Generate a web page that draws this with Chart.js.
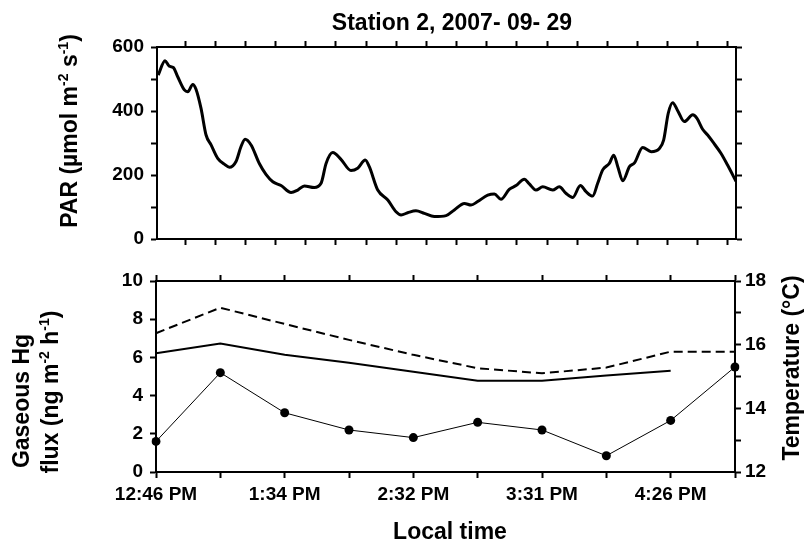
<!DOCTYPE html>
<html>
<head>
<meta charset="utf-8">
<script src="https://cdn.jsdelivr.net/npm/chart.js@4"></script>
<style>
  body { margin: 0; background: #fff; }
  #wrap { position: relative; width: 807px; height: 545px; }
  canvas { position: absolute; left: 0; }
  #parChart { top: 0; }
  #fluxChart { top: 245px; }
</style>
</head>
<body>
<div id="wrap">
  <canvas id="parChart" width="807" height="260"></canvas>
  <canvas id="fluxChart" width="807" height="300"></canvas>
</div>
<script>
// PAR, minutes after 12:46 PM
const parMinutes = [0.6, 4, 6.1, 8.1, 10.3, 13.6, 15.3, 17.8, 19.4, 21.9, 24.4, 26.9, 30.2, 33.5, 36,
  39.3, 41.8, 43.8, 46.8, 50.9, 54.2, 57.6, 61.7, 66.7, 70, 73.3, 78.2, 81.6, 84.1, 87.4,
  91.5, 96.5, 99.8, 103.6, 105.6, 109.8, 114.8, 118.9, 121.4, 124.7, 128.8, 133, 137.9, 143.8, 147.9,
  152.9, 156.2, 159.5, 164.5, 167.8, 171.1, 175.2, 178.6, 182.7, 185.2, 188.5, 191.9, 196.8, 200.1, 203.4,
  206.8, 210.6, 213.4, 216.7, 219.2, 221.7, 225, 227.2, 229.2, 231.7, 235, 237.5, 241.6, 245.8, 249.9,
  252, 254.3, 256.5, 259, 262.3, 266.5, 268.6, 271.4, 273.9, 276.4, 280.5, 283.8, 288];
const parValues = [512, 557, 540, 536, 507, 466, 460, 483, 468, 408, 325, 294, 252, 234, 224,
  242, 289, 312, 294, 236, 202, 179, 167, 145, 153, 166, 161, 174, 236, 270,
  249, 214, 221, 247, 226, 153, 122, 85, 75, 82, 88, 80, 70, 73, 91,
  111, 106, 117, 137, 141, 124, 155, 167, 187, 172, 153, 163, 153, 163, 143,
  130, 167, 148, 134, 174, 216, 236, 262, 226, 182, 226, 238, 286, 273, 283,
  309, 393, 426, 401, 367, 388, 377, 343, 325, 304, 268, 231, 180];

// flux samples
const timeLabels = ['12:46 PM', '', '1:34 PM', '', '2:32 PM', '', '3:31 PM', '', '4:26 PM', ''];
const fluxValues = [1.6, 5.2, 3.1, 2.2, 1.8, 2.6, 2.2, 0.85, 2.7, 5.5];
const tempDashed = [16.36, 17.16, 16.65, 16.15, 15.68, 15.26, 15.1, 15.28, 15.78, 15.78];
const tempSolid = [15.73, 16.04, 15.68, 15.43, 15.15, 14.87, 14.87, 15.03, 15.18, null];

const FONT = "'Liberation Sans', Arial, sans-serif";
Chart.defaults.font.family = FONT;
Chart.defaults.font.weight = 'bold';
Chart.defaults.font.size = 19;
Chart.defaults.color = '#000';
Chart.defaults.animation = false;

function frameAxis(extra) {
  return Object.assign({
    grid: { display: true, drawOnChartArea: false, drawTicks: true, tickLength: 6, tickWidth: 2, color: '#000' },
    border: { display: true, width: 2, color: '#000' },
  }, extra);
}

function drawRich(ctx, parts, x, y, rot) {
  ctx.save();
  ctx.translate(x, y);
  ctx.rotate(rot);
  ctx.fillStyle = '#000';
  ctx.textAlign = 'left';
  ctx.textBaseline = 'alphabetic';
  const setFont = p => { ctx.font = 'bold ' + (p.sup ? 14 : 23) + 'px ' + FONT; };
  let w = 0;
  parts.forEach(p => { setFont(p); w += ctx.measureText(p.t).width; });
  let cx = -w / 2;
  parts.forEach(p => {
    setFont(p);
    ctx.fillText(p.t, cx, p.sup ? -9 : 0);
    cx += ctx.measureText(p.t).width;
  });
  ctx.restore();
}

new Chart(document.getElementById('parChart'), {
  type: 'line',
  data: {
    datasets: [{
      data: parMinutes.map((m, i) => ({ x: m, y: parValues[i] })),
      borderColor: '#000',
      borderWidth: 3,
      pointRadius: 0,
      cubicInterpolationMode: 'monotone',
      fill: false
    }]
  },
  options: {
    responsive: false,
    layout: { padding: { top: 47, right: 71, left: 0, bottom: 0 } },
    plugins: { legend: { display: false }, tooltip: { enabled: false } },
    scales: {
      x: frameAxis({
        type: 'linear', position: 'bottom', min: 0, max: 288,
        ticks: { display: false },
        afterBuildTicks: s => { s.ticks = []; for (let m = 14; m <= 288; m += 15) s.ticks.push({ value: m }); },
        afterFit: s => { s.height = 21; }
      }),
      xTop: frameAxis({
        type: 'linear', position: 'top', min: 0, max: 288,
        ticks: { display: false },
        afterBuildTicks: s => { s.ticks = []; for (let m = 14; m <= 288; m += 15) s.ticks.push({ value: m }); },
        afterFit: s => { s.height = 0; }
      }),
      y: frameAxis({
        position: 'left', min: 0, max: 600,
        ticks: { stepSize: 100, padding: 7, callback: v => v % 200 === 0 ? v : '' },
        afterFit: s => { s.width = 157; }
      }),
      yRight: frameAxis({
        position: 'right', min: 0, max: 600,
        ticks: { display: false, stepSize: 100 },
        afterFit: s => { s.width = 0; }
      })
    }
  },
  plugins: [{
    id: 'parTexts',
    afterDraw(chart) {
      const ctx = chart.ctx;
      drawRich(ctx, [{ t: 'Station 2, 2007- 09- 29' }], 452, 30, 0);
      drawRich(ctx, [{ t: 'PAR (\u00b5mol m' }, { t: '-2', sup: true }, { t: ' s' }, { t: '-1', sup: true }, { t: ')' }], 77, 131, -Math.PI / 2);
    }
  }]
});

new Chart(document.getElementById('fluxChart'), {
  type: 'line',
  data: {
    labels: timeLabels,
    datasets: [
      {
        data: fluxValues, yAxisID: 'y',
        borderColor: '#000', backgroundColor: '#000', borderWidth: 1,
        pointRadius: 4.5, pointBorderWidth: 0, tension: 0
      },
      {
        data: tempDashed, yAxisID: 'yRight',
        borderColor: '#000', borderWidth: 2, borderDash: [9, 5],
        pointRadius: 0, tension: 0
      },
      {
        data: tempSolid, yAxisID: 'yRight',
        borderColor: '#000', borderWidth: 2,
        pointRadius: 0, tension: 0
      }
    ]
  },
  options: {
    responsive: false,
    layout: { padding: { top: 36, right: 0, left: 0, bottom: 0 } },
    plugins: { legend: { display: false }, tooltip: { enabled: false } },
    scales: {
      x: frameAxis({
        type: 'category', position: 'bottom', offset: false,
        ticks: { autoSkip: false, maxRotation: 0, padding: 5 },
        afterFit: s => { s.height = 73; }
      }),
      xTop: frameAxis({
        type: 'category', position: 'top', offset: false,
        ticks: { display: false, autoSkip: false },
        afterFit: s => { s.height = 0; }
      }),
      y: frameAxis({
        position: 'left', min: 0, max: 10,
        ticks: { stepSize: 1, padding: 7, callback: v => v % 2 === 0 ? v : '' },
        afterFit: s => { s.width = 156; }
      }),
      yRight: frameAxis({
        position: 'right', min: 12, max: 18,
        ticks: { stepSize: 1, padding: 4, callback: v => v % 2 === 0 ? v : '' },
        afterFit: s => { s.width = 72; }
      })
    }
  },
  plugins: [{
    id: 'fluxTexts',
    afterDraw(chart) {
      const ctx = chart.ctx;
      drawRich(ctx, [{ t: 'Gaseous Hg' }], 29, 156, -Math.PI / 2);
      drawRich(ctx, [{ t: 'flux (ng m' }, { t: '-2', sup: true }, { t: ' h' }, { t: '-1', sup: true }, { t: ')' }], 58, 147, -Math.PI / 2);
      drawRich(ctx, [{ t: 'Temperature (\u00b0C)' }], 799, 123, -Math.PI / 2);
      drawRich(ctx, [{ t: 'Local time' }], 450, 294, 0);
    }
  }]
});
</script>
</body>
</html>
